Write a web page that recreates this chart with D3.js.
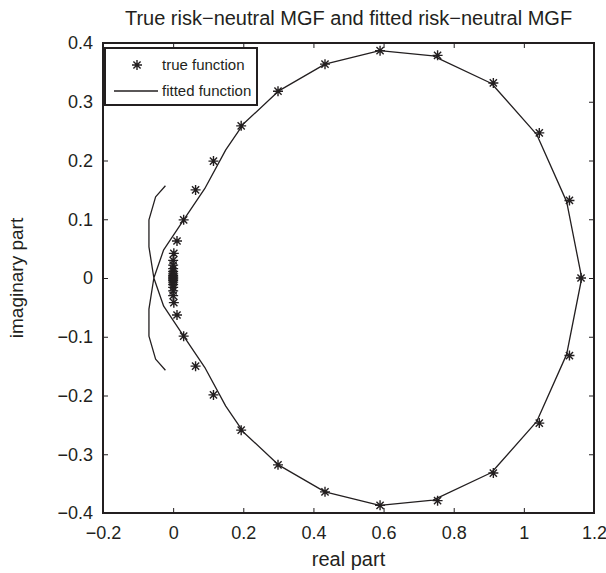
<!DOCTYPE html>
<html>
<head>
<meta charset="utf-8">
<script src="https://cdn.jsdelivr.net/npm/d3@7"></script>
<style>
  html, body { margin: 0; padding: 0; background: #fff; }
  svg text { font-family: "Liberation Sans", Arial, Helvetica, sans-serif; fill: #231f20; }
</style>
</head>
<body>
<svg id="chart" width="606" height="573"></svg>
<script>
// ---- data ----
const titleText = "True risk\u2212neutral MGF and fitted risk\u2212neutral MGF";
const xLabelText = "real part";
const yLabelText = "imaginary part";
const legendLabels = ["true function", "fitted function"];

const xTicks = [-0.2, 0, 0.2, 0.4, 0.6, 0.8, 1, 1.2];
const xTickLabels = ["\u22120.2", "0", "0.2", "0.4", "0.6", "0.8", "1", "1.2"];
const yTicks = [-0.4, -0.3, -0.2, -0.1, 0, 0.1, 0.2, 0.3, 0.4];
const yTickLabels = ["\u22120.4", "\u22120.3", "\u22120.2", "\u22120.1", "0", "0.1", "0.2", "0.3", "0.4"];

// true function (asterisks)
const trueRe = [1.163, 1.130, 1.044, 0.913, 0.754, 0.590, 0.433, 0.299, 0.194, 0.115, 0.064, 0.030, 0.011, 0.002, 0.000, 0.000, 0.000, 0.000, 0.000, 0.000, 0.000,
                0.000,
                0.000, 0.000, 0.000, 0.000, 0.000, 0.000, 0.000, 0.002, 0.011, 0.030, 0.064, 0.115, 0.194, 0.299, 0.433, 0.590, 0.754, 0.913, 1.044, 1.130];
const trueIm = [0.000, 0.132, 0.247, 0.332, 0.379, 0.387, 0.364, 0.318, 0.259, 0.199, 0.150, 0.099, 0.063, 0.042, 0.030, 0.022, 0.016, 0.011, 0.007, 0.004, 0.002,
                0.000,
                -0.002, -0.004, -0.007, -0.011, -0.016, -0.022, -0.030, -0.042, -0.063, -0.099, -0.150, -0.199, -0.259, -0.318, -0.364, -0.387, -0.379, -0.332, -0.247, -0.132];

// fitted function (line)
const fitRe = [-0.022, -0.050, -0.069, -0.069, -0.055, -0.027, 0.030, 0.090, 0.150, 0.200, 0.300, 0.433, 0.589, 0.741, 0.908, 1.037, 1.122, 1.165,
               1.122, 1.037, 0.908, 0.741, 0.589, 0.433, 0.300, 0.200, 0.150, 0.090, 0.030, -0.027, -0.055, -0.069, -0.069, -0.050, -0.022];
const fitIm = [0.157, 0.138, 0.099, 0.053, 0.000, -0.048, -0.099, -0.152, -0.218, -0.262, -0.318, -0.364, -0.387, -0.378, -0.331, -0.244, -0.130, 0.000,
               0.130, 0.244, 0.331, 0.378, 0.387, 0.364, 0.318, 0.262, 0.218, 0.152, 0.099, 0.048, 0.000, -0.053, -0.099, -0.138, -0.157];

// ---- layout ----
const ink = "#231f20";
const margin = { left: 103, right: 12, top: 43, bottom: 60 };
const W = 606, H = 573;
const svg = d3.select("#chart");

const x = d3.scaleLinear().domain([-0.2, 1.2]).range([margin.left, W - margin.right]);
const y = d3.scaleLinear().domain([-0.4, 0.4]).range([H - margin.bottom, margin.top]);

const tickFont = 18;

// axes
const gx = svg.append("g").attr("transform", `translate(0,${y(-0.4)})`)
  .call(d3.axisBottom(x).tickValues(xTicks).tickFormat((d, i) => xTickLabels[i]).tickSizeInner(-5).tickSizeOuter(0).tickPadding(13));
const gxt = svg.append("g").attr("transform", `translate(0,${y(0.4)})`)
  .call(d3.axisTop(x).tickValues(xTicks).tickFormat("").tickSizeInner(-5).tickSizeOuter(0));
const gy = svg.append("g").attr("transform", `translate(${x(-0.2)},0)`)
  .call(d3.axisLeft(y).tickValues(yTicks).tickFormat((d, i) => yTickLabels[i]).tickSizeInner(-5).tickSizeOuter(0).tickPadding(10));
const gyr = svg.append("g").attr("transform", `translate(${x(1.2)},0)`)
  .call(d3.axisRight(y).tickValues(yTicks).tickFormat("").tickSizeInner(-5).tickSizeOuter(0));

[gx, gxt, gy, gyr].forEach(g => {
  g.select(".domain").remove();
  g.selectAll(".tick line").attr("stroke", ink).attr("stroke-width", 1);
  g.selectAll(".tick text").attr("font-size", tickFont).attr("font-family", "Liberation Sans, Arial, sans-serif").attr("fill", ink);
});

// frame
svg.append("rect")
  .attr("x", x(-0.2)).attr("y", y(0.4))
  .attr("width", x(1.2) - x(-0.2)).attr("height", y(-0.4) - y(0.4))
  .attr("fill", "none").attr("stroke", ink).attr("stroke-width", 2);

// fitted line
const fitData = fitRe.map((r, i) => [r, fitIm[i]]);
svg.append("path")
  .datum(fitData)
  .attr("d", d3.line().x(d => x(d[0])).y(d => y(d[1])))
  .attr("fill", "none").attr("stroke", ink).attr("stroke-width", 1.3).attr("stroke-linejoin", "round");

// asterisk marker
function star(s) {
  const a = s / 2, b = a * 0.72;
  return `M${-a},0L${a},0M0,${-a}L0,${a}M${-b},${-b}L${b},${b}M${-b},${b}L${b},${-b}`;
}
const trueData = trueRe.map((r, i) => [r, trueIm[i]]);
svg.append("g").selectAll("path")
  .data(trueData).enter().append("path")
  .attr("transform", d => `translate(${x(d[0])},${y(d[1])})`)
  .attr("d", star(10))
  .attr("fill", "none").attr("stroke", ink).attr("stroke-width", 1.4);

// title and labels
svg.append("text").attr("x", (x(-0.2) + x(1.2)) / 2).attr("y", 25)
  .attr("text-anchor", "middle").attr("font-size", 20).text(titleText);
svg.append("text").attr("x", (x(-0.2) + x(1.2)) / 2).attr("y", 566)
  .attr("text-anchor", "middle").attr("font-size", 20).text(xLabelText);
svg.append("text").attr("transform", `translate(23,${(y(0.4) + y(-0.4)) / 2}) rotate(-90)`)
  .attr("text-anchor", "middle").attr("font-size", 19).text(yLabelText);

// legend
const lg = svg.append("g");
lg.append("rect").attr("x", 105).attr("y", 48).attr("width", 152).attr("height", 57)
  .attr("fill", "#fff").attr("stroke", ink).attr("stroke-width", 2);
lg.append("path").attr("transform", "translate(137,65)").attr("d", star(10))
  .attr("fill", "none").attr("stroke", ink).attr("stroke-width", 1.4);
lg.append("line").attr("x1", 114).attr("x2", 158).attr("y1", 91).attr("y2", 91)
  .attr("stroke", ink).attr("stroke-width", 1.3);
lg.append("text").attr("x", 162).attr("y", 70).attr("font-size", 15).text(legendLabels[0]);
lg.append("text").attr("x", 162).attr("y", 96).attr("font-size", 15).text(legendLabels[1]);
</script>
</body>
</html>
